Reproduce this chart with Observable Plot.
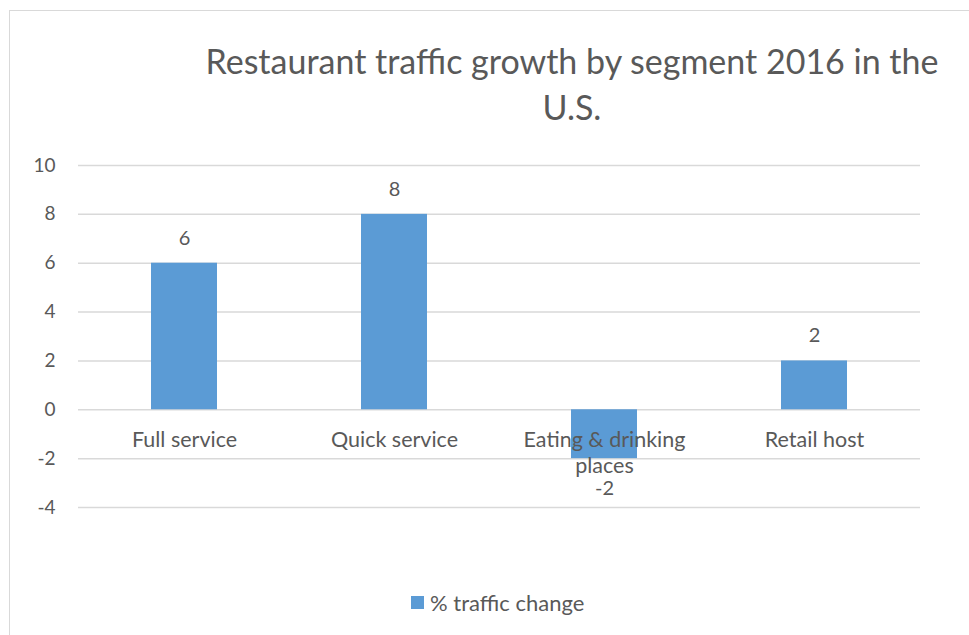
<!DOCTYPE html>
<html>
<head>
<meta charset="utf-8">
<script src="https://cdn.jsdelivr.net/npm/d3@7"></script>
<script src="https://cdn.jsdelivr.net/npm/@observablehq/plot@0.6"></script>
<style>
  html, body { margin: 0; padding: 0; background: #fff; }
  #wrap { position: relative; width: 969px; height: 635px; overflow: hidden; font-family: Lato, "Open Sans", sans-serif; color: #595959; }
  #frame { position: absolute; left: 9px; top: 10px; width: 980px; height: 640px; border: 1.5px solid #d9d9d9; box-sizing: border-box; }
  #chart { position: absolute; left: 0; top: 0; }
  #title { position: absolute; left: 72px; width: 1000px; top: 38px; text-align: center; font-size: 34px; line-height: 46px; font-weight: 400; }
  #legend { position: absolute; left: 411px; top: 589px; display: flex; align-items: center; font-size: 22px; }
  #legend .sw { width: 13px; height: 13px; background: #5b9bd5; margin-right: 6px; }
</style>
</head>
<body>
<div id="wrap">
  <div id="frame"></div>
  <div id="chart"></div>
  <div id="title"></div>
  <div id="legend"><div class="sw"></div><span id="legtext"></span></div>
</div>
<script>
const titleLines = ["Restaurant traffic growth by segment 2016 in the", "U.S."];
const seriesName = "% traffic change";
const categories = ["Full service", "Quick service", "Eating & drinking places", "Retail host"];
const values = [6, 8, -2, 2];
const yTicks = [-4, -2, 0, 2, 4, 6, 8, 10];

document.getElementById("title").innerHTML = titleLines.join("<br>");
document.getElementById("legtext").textContent = seriesName;

const data = categories.map((c, i) => ({ cat: c, v: values[i] }));
const labelLines = {
  "Full service": "Full service",
  "Quick service": "Quick service",
  "Eating & drinking places": "Eating & drinking\nplaces",
  "Retail host": "Retail host"
};

const chart = Plot.plot({
  width: 969,
  height: 635,
  marginTop: 165,
  marginBottom: 128,
  marginLeft: 78,
  marginRight: 49,
  style: { fontFamily: "Lato, 'Open Sans', sans-serif", fontSize: "19px", color: "#595959", background: "transparent" },
  x: { domain: categories, paddingInner: 0.686, paddingOuter: 0.343, axis: null },
  y: { domain: [-4, 10], ticks: yTicks, tickSize: 0, tickPadding: 23, label: null, line: false, tickFormat: d => String(d) },
  marks: [
    Plot.gridY(yTicks, { stroke: "#d9d9d9", strokeOpacity: 1, strokeWidth: 1.5 }),
    Plot.barY(data, { x: "cat", y: "v", fill: "#5b9bd5" }),
    Plot.text(data, { x: "cat", y: 0, text: d => labelLines[d.cat], dy: 19, lineAnchor: "top", fill: "#595959", fontSize: 21.5, lineHeight: 1.2 }),
    Plot.text(data, { x: "cat", y: "v", text: d => String(d.v), fill: "#595959", fontSize: 20 }),
  ]
});
document.getElementById("chart").appendChild(chart);

// value label offsets: positive above the bar, negative below
const labels = chart.querySelectorAll("g[aria-label='text']");
const valG = labels[labels.length - 1];
valG.querySelectorAll("text").forEach((t, i) => {
  const off = values[i] >= 0 ? -25 : 30;
  const tr = t.getAttribute("transform") || "";
  t.setAttribute("transform", tr + ` translate(0,${off})`);
});
</script>
</body>
</html>
